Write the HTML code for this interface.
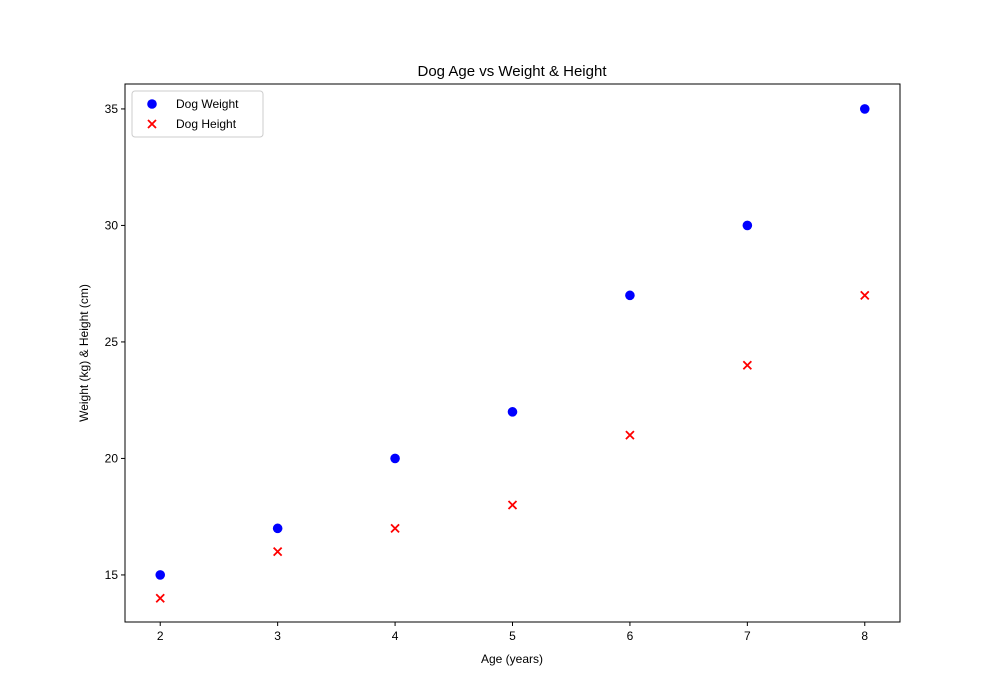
<!DOCTYPE html>
<html><head><meta charset="utf-8"><style>
body{margin:0;background:#fff;}
svg{display:block;font-family:"Liberation Sans","DejaVu Sans",sans-serif;}
</style></head><body>
<svg id="chart" width="1000" height="700" viewBox="0 0 1000 700">
<rect width="1000" height="700" fill="#fff"/>
<text x="512" y="76" font-size="15" text-anchor="middle">Dog Age vs Weight &amp; Height</text>
<g id="ticks"></g>
<g id="marks"></g>
<rect x="125" y="84" width="775" height="538" fill="none" stroke="#000" stroke-width="1"/>
<text x="512" y="663" font-size="12" text-anchor="middle">Age (years)</text>
<text transform="translate(88,353) rotate(-90)" font-size="12" text-anchor="middle">Weight (kg) &amp; Height (cm)</text>
<g>
<rect x="132" y="91" width="131" height="46" rx="3" fill="#fff" stroke="#ccc"/>
<g>
<circle cx="152" cy="104" r="4.8" fill="#0000ff"/>
<text x="176" y="108" font-size="12">Dog Weight</text></g>
<g>
<path d="M148,120 l8,8 M156,120 l-8,8" stroke="#ff0000" stroke-width="1.8"/>
<text x="176" y="128" font-size="12">Dog Height</text></g>
</g>
</svg>
<script>
const ages=[2,3,4,5,6,7,8];
const weights=[15,17,20,22,27,30,35];
const heights=[14,16,17,18,21,24,27];
const xTicks=[2,3,4,5,6,7,8];
const yTicks=[15,20,25,30,35];
const NS="http://www.w3.org/2000/svg";
const X0=125,X1=900,Y0=622,Y1=84,xmin=1.7,xmax=8.3,ymin=12.98,ymax=36.07;
function sx(v){return X0+(v-xmin)/(xmax-xmin)*(X1-X0);}
function sy(v){return Y0-(v-ymin)/(ymax-ymin)*(Y0-Y1);}
function mk(t,a,p){const e=document.createElementNS(NS,t);for(const k in a)e.setAttribute(k,a[k]);p.appendChild(e);return e;}
const tg=document.getElementById('ticks'),mg=document.getElementById('marks');
xTicks.forEach(v=>{const x=sx(v);
const l=mk('line',{x1:x,x2:x,y1:Y0,y2:Y0+4,stroke:'#000'},tg);


const t=mk('text',{x:x,y:Y0+18,'font-size':12,'text-anchor':'middle'},tg);t.textContent=v;

});
yTicks.forEach(v=>{const y=sy(v);
const l=mk('line',{x1:X0-4,x2:X0,y1:y,y2:y,stroke:'#000'},tg);


const t=mk('text',{x:X0-7,y:y+4,'font-size':12,'text-anchor':'end'},tg);t.textContent=v;

});
ages.forEach((a,i)=>{
const c=mk('circle',{cx:sx(a),cy:sy(weights[i]),r:4.8,fill:'#0000ff'},mg);


const x=sx(a),y=sy(heights[i]);
const p=mk('path',{d:`M${x-4},${y-4} L${x+4},${y+4} M${x+4},${y-4} L${x-4},${y+4}`,stroke:'#ff0000','stroke-width':1.8},mg);


});
</script>
</body></html>
